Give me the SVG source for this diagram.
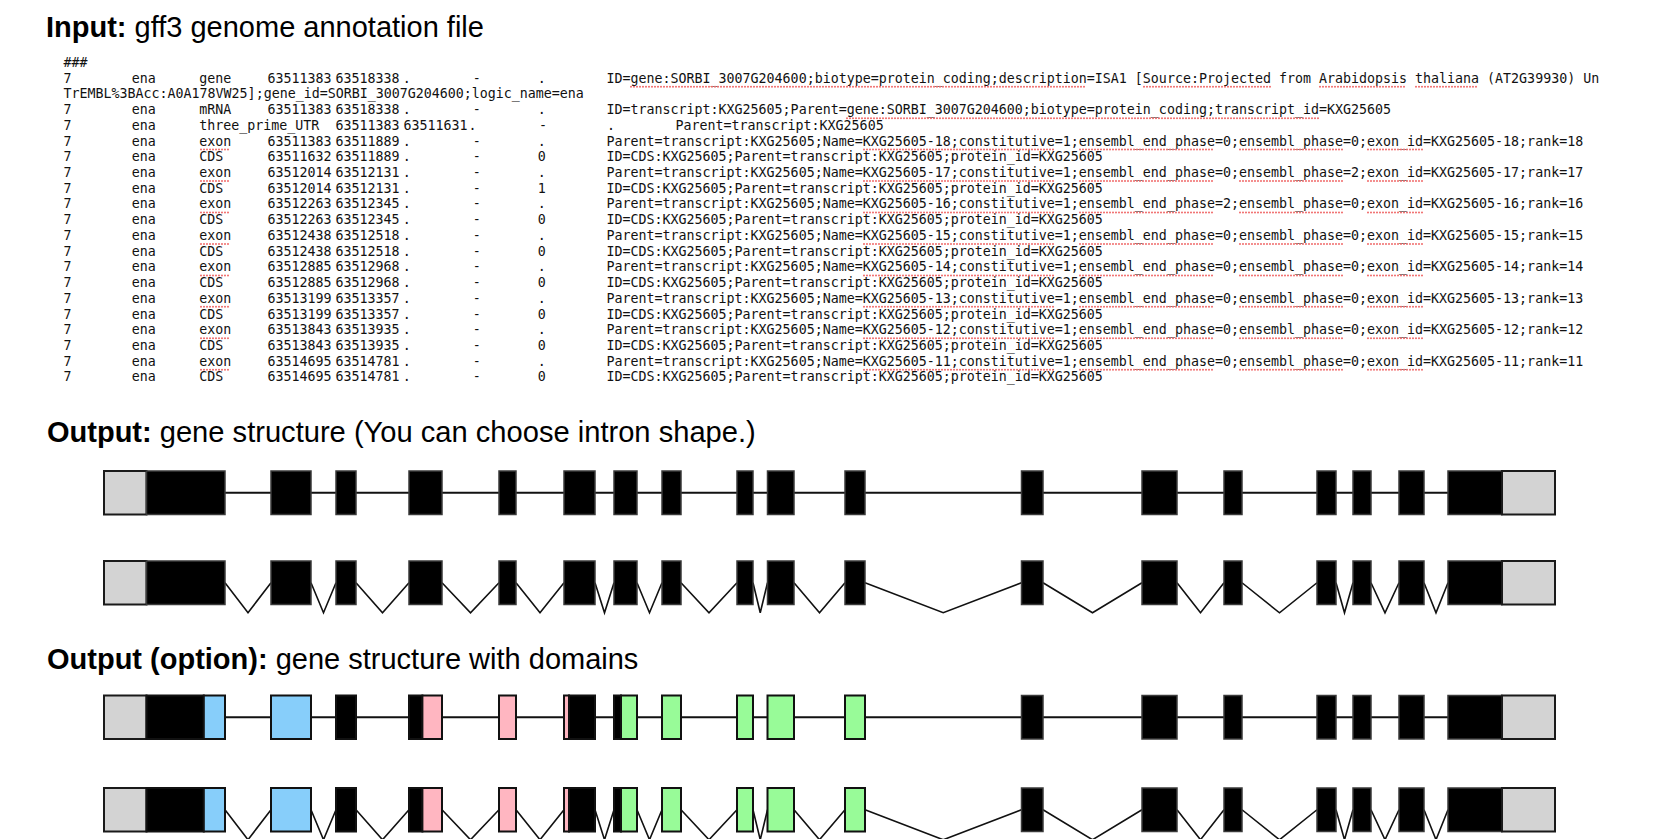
<svg xmlns="http://www.w3.org/2000/svg" width="1660" height="839" viewBox="0 0 1660 839">
<defs>
<style>
.t{font-family:"Liberation Sans",Arial,sans-serif;font-size:29px;fill:#000}
.b{font-weight:bold}
.m{font-family:"DejaVu Sans Mono","Liberation Mono",monospace;font-size:13.3px;fill:#111}
.sp{stroke:#f06a6a;stroke-width:2;stroke-dasharray:0 3;stroke-linecap:round;fill:none}
.cds{fill:#000;stroke:#3a3a3a;stroke-width:1.5}
.utr{fill:#d3d3d3;stroke:#1a1a1a;stroke-width:2}
.dk{fill:#000;stroke:#111;stroke-width:2}
.bl{fill:#87cefa;stroke:#111;stroke-width:2}
.pk{fill:#ffb6c1;stroke:#111;stroke-width:2}
.gr{fill:#98fb98;stroke:#111;stroke-width:2}
.ln{stroke:#111;stroke-width:2;fill:none}
.vn{stroke:#111;stroke-width:1.6;fill:none;stroke-linejoin:miter}
</style>
</defs>
<rect width="1660" height="839" fill="#fff"/>

<g id="titles">
<text class="t" x="46" y="37"><tspan class="b">Input:</tspan> gff3 genome annotation file</text>
<text class="t" x="47" y="442"><tspan class="b">Output:</tspan> <tspan textLength="596" lengthAdjust="spacingAndGlyphs">gene structure (You can choose intron shape.)</tspan></text>
<text class="t" x="47" y="669"><tspan class="b">Output (option):</tspan> gene structure with domains</text>
</g>

<g id="gff3-text">
<text class="m" x="63.5" y="67">###</text>
<text class="m" y="82.72"><tspan x="63.5">7</tspan><tspan x="131.8">ena</tspan><tspan x="199.3">gene</tspan><tspan x="267.5">63511383</tspan><tspan x="335.5">63518338</tspan><tspan x="402.7">.</tspan><tspan x="472.7">-</tspan><tspan x="537.7">.</tspan><tspan x="606.5">ID=gene:SORBI_3007G204600;biotype=protein_coding;description=ISA1 [Source:Projected from Arabidopsis thaliana (AT2G39930) Un</tspan></text>
<text class="m" x="63.5" y="98.44">TrEMBL%3BAcc:A0A178VW25];gene_id=SORBI_3007G204600;logic_name=ena</text>
<text class="m" y="114.16"><tspan x="63.5">7</tspan><tspan x="131.8">ena</tspan><tspan x="199.3">mRNA</tspan><tspan x="267.5">63511383</tspan><tspan x="335.5">63518338</tspan><tspan x="402.7">.</tspan><tspan x="472.7">-</tspan><tspan x="537.7">.</tspan><tspan x="606.5">ID=transcript:KXG25605;Parent=gene:SORBI_3007G204600;biotype=protein_coding;transcript_id=KXG25605</tspan></text>
<text class="m" y="129.88"><tspan x="63.5">7</tspan><tspan x="131.8">ena</tspan><tspan x="199.3">three_prime_UTR</tspan><tspan x="335.5">63511383</tspan><tspan x="403.5">63511631</tspan><tspan x="468.5">.</tspan><tspan x="539">-</tspan><tspan x="607">.</tspan><tspan x="675.5">Parent=transcript:KXG25605</tspan></text>
<text class="m" y="145.6"><tspan x="63.5">7</tspan><tspan x="131.8">ena</tspan><tspan x="199.3">exon</tspan><tspan x="267.5">63511383</tspan><tspan x="335.5">63511889</tspan><tspan x="402.7">.</tspan><tspan x="472.7">-</tspan><tspan x="537.7">.</tspan><tspan x="606.5">Parent=transcript:KXG25605;Name=KXG25605-18;constitutive=1;ensembl_end_phase=0;ensembl_phase=0;exon_id=KXG25605-18;rank=18</tspan></text>
<text class="m" y="161.32"><tspan x="63.5">7</tspan><tspan x="131.8">ena</tspan><tspan x="199.3">CDS</tspan><tspan x="267.5">63511632</tspan><tspan x="335.5">63511889</tspan><tspan x="402.7">.</tspan><tspan x="472.7">-</tspan><tspan x="537.7">0</tspan><tspan x="606.5">ID=CDS:KXG25605;Parent=transcript:KXG25605;protein_id=KXG25605</tspan></text>
<text class="m" y="177.04"><tspan x="63.5">7</tspan><tspan x="131.8">ena</tspan><tspan x="199.3">exon</tspan><tspan x="267.5">63512014</tspan><tspan x="335.5">63512131</tspan><tspan x="402.7">.</tspan><tspan x="472.7">-</tspan><tspan x="537.7">.</tspan><tspan x="606.5">Parent=transcript:KXG25605;Name=KXG25605-17;constitutive=1;ensembl_end_phase=0;ensembl_phase=2;exon_id=KXG25605-17;rank=17</tspan></text>
<text class="m" y="192.76"><tspan x="63.5">7</tspan><tspan x="131.8">ena</tspan><tspan x="199.3">CDS</tspan><tspan x="267.5">63512014</tspan><tspan x="335.5">63512131</tspan><tspan x="402.7">.</tspan><tspan x="472.7">-</tspan><tspan x="537.7">1</tspan><tspan x="606.5">ID=CDS:KXG25605;Parent=transcript:KXG25605;protein_id=KXG25605</tspan></text>
<text class="m" y="208.48"><tspan x="63.5">7</tspan><tspan x="131.8">ena</tspan><tspan x="199.3">exon</tspan><tspan x="267.5">63512263</tspan><tspan x="335.5">63512345</tspan><tspan x="402.7">.</tspan><tspan x="472.7">-</tspan><tspan x="537.7">.</tspan><tspan x="606.5">Parent=transcript:KXG25605;Name=KXG25605-16;constitutive=1;ensembl_end_phase=2;ensembl_phase=0;exon_id=KXG25605-16;rank=16</tspan></text>
<text class="m" y="224.2"><tspan x="63.5">7</tspan><tspan x="131.8">ena</tspan><tspan x="199.3">CDS</tspan><tspan x="267.5">63512263</tspan><tspan x="335.5">63512345</tspan><tspan x="402.7">.</tspan><tspan x="472.7">-</tspan><tspan x="537.7">0</tspan><tspan x="606.5">ID=CDS:KXG25605;Parent=transcript:KXG25605;protein_id=KXG25605</tspan></text>
<text class="m" y="239.92"><tspan x="63.5">7</tspan><tspan x="131.8">ena</tspan><tspan x="199.3">exon</tspan><tspan x="267.5">63512438</tspan><tspan x="335.5">63512518</tspan><tspan x="402.7">.</tspan><tspan x="472.7">-</tspan><tspan x="537.7">.</tspan><tspan x="606.5">Parent=transcript:KXG25605;Name=KXG25605-15;constitutive=1;ensembl_end_phase=0;ensembl_phase=0;exon_id=KXG25605-15;rank=15</tspan></text>
<text class="m" y="255.64"><tspan x="63.5">7</tspan><tspan x="131.8">ena</tspan><tspan x="199.3">CDS</tspan><tspan x="267.5">63512438</tspan><tspan x="335.5">63512518</tspan><tspan x="402.7">.</tspan><tspan x="472.7">-</tspan><tspan x="537.7">0</tspan><tspan x="606.5">ID=CDS:KXG25605;Parent=transcript:KXG25605;protein_id=KXG25605</tspan></text>
<text class="m" y="271.36"><tspan x="63.5">7</tspan><tspan x="131.8">ena</tspan><tspan x="199.3">exon</tspan><tspan x="267.5">63512885</tspan><tspan x="335.5">63512968</tspan><tspan x="402.7">.</tspan><tspan x="472.7">-</tspan><tspan x="537.7">.</tspan><tspan x="606.5">Parent=transcript:KXG25605;Name=KXG25605-14;constitutive=1;ensembl_end_phase=0;ensembl_phase=0;exon_id=KXG25605-14;rank=14</tspan></text>
<text class="m" y="287.08"><tspan x="63.5">7</tspan><tspan x="131.8">ena</tspan><tspan x="199.3">CDS</tspan><tspan x="267.5">63512885</tspan><tspan x="335.5">63512968</tspan><tspan x="402.7">.</tspan><tspan x="472.7">-</tspan><tspan x="537.7">0</tspan><tspan x="606.5">ID=CDS:KXG25605;Parent=transcript:KXG25605;protein_id=KXG25605</tspan></text>
<text class="m" y="302.8"><tspan x="63.5">7</tspan><tspan x="131.8">ena</tspan><tspan x="199.3">exon</tspan><tspan x="267.5">63513199</tspan><tspan x="335.5">63513357</tspan><tspan x="402.7">.</tspan><tspan x="472.7">-</tspan><tspan x="537.7">.</tspan><tspan x="606.5">Parent=transcript:KXG25605;Name=KXG25605-13;constitutive=1;ensembl_end_phase=0;ensembl_phase=0;exon_id=KXG25605-13;rank=13</tspan></text>
<text class="m" y="318.52"><tspan x="63.5">7</tspan><tspan x="131.8">ena</tspan><tspan x="199.3">CDS</tspan><tspan x="267.5">63513199</tspan><tspan x="335.5">63513357</tspan><tspan x="402.7">.</tspan><tspan x="472.7">-</tspan><tspan x="537.7">0</tspan><tspan x="606.5">ID=CDS:KXG25605;Parent=transcript:KXG25605;protein_id=KXG25605</tspan></text>
<text class="m" y="334.24"><tspan x="63.5">7</tspan><tspan x="131.8">ena</tspan><tspan x="199.3">exon</tspan><tspan x="267.5">63513843</tspan><tspan x="335.5">63513935</tspan><tspan x="402.7">.</tspan><tspan x="472.7">-</tspan><tspan x="537.7">.</tspan><tspan x="606.5">Parent=transcript:KXG25605;Name=KXG25605-12;constitutive=1;ensembl_end_phase=0;ensembl_phase=0;exon_id=KXG25605-12;rank=12</tspan></text>
<text class="m" y="349.96"><tspan x="63.5">7</tspan><tspan x="131.8">ena</tspan><tspan x="199.3">CDS</tspan><tspan x="267.5">63513843</tspan><tspan x="335.5">63513935</tspan><tspan x="402.7">.</tspan><tspan x="472.7">-</tspan><tspan x="537.7">0</tspan><tspan x="606.5">ID=CDS:KXG25605;Parent=transcript:KXG25605;protein_id=KXG25605</tspan></text>
<text class="m" y="365.68"><tspan x="63.5">7</tspan><tspan x="131.8">ena</tspan><tspan x="199.3">exon</tspan><tspan x="267.5">63514695</tspan><tspan x="335.5">63514781</tspan><tspan x="402.7">.</tspan><tspan x="472.7">-</tspan><tspan x="537.7">.</tspan><tspan x="606.5">Parent=transcript:KXG25605;Name=KXG25605-11;constitutive=1;ensembl_end_phase=0;ensembl_phase=0;exon_id=KXG25605-11;rank=11</tspan></text>
<text class="m" y="381.4"><tspan x="63.5">7</tspan><tspan x="131.8">ena</tspan><tspan x="199.3">CDS</tspan><tspan x="267.5">63514695</tspan><tspan x="335.5">63514781</tspan><tspan x="402.7">.</tspan><tspan x="472.7">-</tspan><tspan x="537.7">0</tspan><tspan x="606.5">ID=CDS:KXG25605;Parent=transcript:KXG25605;protein_id=KXG25605</tspan></text>
</g>

<g id="spellcheck-marks">
<path class="sp" d="M631 86.7H1087M1144 86.7H1271M1320 86.7H1407M1416 86.7H1479M847 118.2H1319"/>
<path class="sp" d="M201 149.6H231M864 149.6H1055M1080 149.6H1215M1240 149.6H1343M1368 149.6H1423"/>
<path class="sp" d="M201 181H231M864 181H1055M1080 181H1215M1240 181H1343M1368 181H1423"/>
<path class="sp" d="M201 212.5H231M864 212.5H1055M1080 212.5H1215M1240 212.5H1343M1368 212.5H1423"/>
<path class="sp" d="M201 243.9H231M864 243.9H1055M1080 243.9H1215M1240 243.9H1343M1368 243.9H1423"/>
<path class="sp" d="M201 275.4H231M864 275.4H1055M1080 275.4H1215M1240 275.4H1343M1368 275.4H1423"/>
<path class="sp" d="M201 306.8H231M864 306.8H1055M1080 306.8H1215M1240 306.8H1343M1368 306.8H1423"/>
<path class="sp" d="M201 338.2H231M864 338.2H1055M1080 338.2H1215M1240 338.2H1343M1368 338.2H1423"/>
<path class="sp" d="M201 369.7H231M864 369.7H1055M1080 369.7H1215M1240 369.7H1343M1368 369.7H1423"/>
</g>

<g id="connectors">
<line id="row1-introns" class="ln" x1="225" y1="492.75" x2="1448" y2="492.75"/>
<g id="row2-introns" class="vn">
<polyline points="225,582.75 248,612.75 271,582.75"/>
<polyline points="311,582.75 323.5,612.75 336,582.75"/>
<polyline points="356,582.75 382.5,612.75 409,582.75"/>
<polyline points="442,582.75 470.5,612.75 499,582.75"/>
<polyline points="516,582.75 540,612.75 564,582.75"/>
<polyline points="595,582.75 604.5,612.75 614,582.75"/>
<polyline points="637,582.75 649.5,612.75 662,582.75"/>
<polyline points="681,582.75 709,612.75 737,582.75"/>
<polyline points="753,582.75 760.25,612.75 767.5,582.75"/>
<polyline points="794,582.75 819.5,612.75 845,582.75"/>
<polyline points="865,582.75 943.25,612.75 1021.5,582.75"/>
<polyline points="1043,582.75 1092.5,612.75 1142,582.75"/>
<polyline points="1177,582.75 1200.5,612.75 1224,582.75"/>
<polyline points="1242,582.75 1279.5,612.75 1317,582.75"/>
<polyline points="1336,582.75 1344.5,612.75 1353,582.75"/>
<polyline points="1371,582.75 1385,612.75 1399,582.75"/>
<polyline points="1424,582.75 1436,612.75 1448,582.75"/>
</g>
<line id="row3-introns" class="ln" x1="225" y1="717.25" x2="1448" y2="717.25"/>
<g id="row4-introns" class="vn">
<polyline points="225,809.75 248,839.75 271,809.75"/>
<polyline points="311,809.75 323.5,839.75 336,809.75"/>
<polyline points="356,809.75 382.5,839.75 409,809.75"/>
<polyline points="442,809.75 470.5,839.75 499,809.75"/>
<polyline points="516,809.75 540,839.75 564,809.75"/>
<polyline points="595,809.75 604.5,839.75 614,809.75"/>
<polyline points="637,809.75 649.5,839.75 662,809.75"/>
<polyline points="681,809.75 709,839.75 737,809.75"/>
<polyline points="753,809.75 760.25,839.75 767.5,809.75"/>
<polyline points="794,809.75 819.5,839.75 845,809.75"/>
<polyline points="865,809.75 943.25,839.75 1021.5,809.75"/>
<polyline points="1043,809.75 1092.5,839.75 1142,809.75"/>
<polyline points="1177,809.75 1200.5,839.75 1224,809.75"/>
<polyline points="1242,809.75 1279.5,839.75 1317,809.75"/>
<polyline points="1336,809.75 1344.5,839.75 1353,809.75"/>
<polyline points="1371,809.75 1385,839.75 1399,809.75"/>
<polyline points="1424,809.75 1436,839.75 1448,809.75"/>
</g>
</g>

<g id="row1">
<g id="r1-utr3"><rect class="utr" x="104" y="471" width="42.5" height="43.5"/></g>
<g id="r1-e1"><rect class="cds" x="146.5" y="471" width="78.5" height="43.5"/></g>
<g id="r1-e2"><rect class="cds" x="271" y="471" width="40" height="43.5"/></g>
<g id="r1-e3"><rect class="cds" x="336" y="471" width="20" height="43.5"/></g>
<g id="r1-e4"><rect class="cds" x="409" y="471" width="33" height="43.5"/></g>
<g id="r1-e5"><rect class="cds" x="499" y="471" width="17" height="43.5"/></g>
<g id="r1-e6"><rect class="cds" x="564" y="471" width="31" height="43.5"/></g>
<g id="r1-e7"><rect class="cds" x="614" y="471" width="23" height="43.5"/></g>
<g id="r1-e8"><rect class="cds" x="662" y="471" width="19" height="43.5"/></g>
<g id="r1-e9"><rect class="cds" x="737" y="471" width="16" height="43.5"/></g>
<g id="r1-e10"><rect class="cds" x="767.5" y="471" width="26.5" height="43.5"/></g>
<g id="r1-e11"><rect class="cds" x="845" y="471" width="20" height="43.5"/></g>
<g id="r1-e12"><rect class="cds" x="1021.5" y="471" width="21.5" height="43.5"/></g>
<g id="r1-e13"><rect class="cds" x="1142" y="471" width="35" height="43.5"/></g>
<g id="r1-e14"><rect class="cds" x="1224" y="471" width="18" height="43.5"/></g>
<g id="r1-e15"><rect class="cds" x="1317" y="471" width="19" height="43.5"/></g>
<g id="r1-e16"><rect class="cds" x="1353" y="471" width="18" height="43.5"/></g>
<g id="r1-e17"><rect class="cds" x="1399" y="471" width="25" height="43.5"/></g>
<g id="r1-e18"><rect class="cds" x="1448" y="471" width="54" height="43.5"/></g>
<g id="r1-utr5"><rect class="utr" x="1502" y="471" width="53" height="43.5"/></g>
</g>

<g id="row2">
<g id="r2-utr3"><rect class="utr" x="104" y="561" width="42.5" height="43.5"/></g>
<g id="r2-e1"><rect class="cds" x="146.5" y="561" width="78.5" height="43.5"/></g>
<g id="r2-e2"><rect class="cds" x="271" y="561" width="40" height="43.5"/></g>
<g id="r2-e3"><rect class="cds" x="336" y="561" width="20" height="43.5"/></g>
<g id="r2-e4"><rect class="cds" x="409" y="561" width="33" height="43.5"/></g>
<g id="r2-e5"><rect class="cds" x="499" y="561" width="17" height="43.5"/></g>
<g id="r2-e6"><rect class="cds" x="564" y="561" width="31" height="43.5"/></g>
<g id="r2-e7"><rect class="cds" x="614" y="561" width="23" height="43.5"/></g>
<g id="r2-e8"><rect class="cds" x="662" y="561" width="19" height="43.5"/></g>
<g id="r2-e9"><rect class="cds" x="737" y="561" width="16" height="43.5"/></g>
<g id="r2-e10"><rect class="cds" x="767.5" y="561" width="26.5" height="43.5"/></g>
<g id="r2-e11"><rect class="cds" x="845" y="561" width="20" height="43.5"/></g>
<g id="r2-e12"><rect class="cds" x="1021.5" y="561" width="21.5" height="43.5"/></g>
<g id="r2-e13"><rect class="cds" x="1142" y="561" width="35" height="43.5"/></g>
<g id="r2-e14"><rect class="cds" x="1224" y="561" width="18" height="43.5"/></g>
<g id="r2-e15"><rect class="cds" x="1317" y="561" width="19" height="43.5"/></g>
<g id="r2-e16"><rect class="cds" x="1353" y="561" width="18" height="43.5"/></g>
<g id="r2-e17"><rect class="cds" x="1399" y="561" width="25" height="43.5"/></g>
<g id="r2-e18"><rect class="cds" x="1448" y="561" width="54" height="43.5"/></g>
<g id="r2-utr5"><rect class="utr" x="1502" y="561" width="53" height="43.5"/></g>
</g>

<g id="row3">
<g id="r3-utr3"><rect class="utr" x="104" y="695.5" width="42.5" height="43.5"/></g>
<g id="r3-e1"><rect class="dk" x="146.5" y="695.5" width="57.3" height="43.5"/><rect class="bl" x="203.8" y="695.5" width="21.2" height="43.5"/></g>
<g id="r3-e2"><rect class="bl" x="271" y="695.5" width="40" height="43.5"/></g>
<g id="r3-e3"><rect class="dk" x="336" y="695.5" width="20" height="43.5"/></g>
<g id="r3-e4"><rect class="dk" x="409" y="695.5" width="13.4" height="43.5"/><rect class="pk" x="422.4" y="695.5" width="19.6" height="43.5"/></g>
<g id="r3-e5"><rect class="pk" x="499" y="695.5" width="17" height="43.5"/></g>
<g id="r3-e6"><rect class="pk" x="564" y="695.5" width="5" height="43.5"/><rect class="dk" x="569" y="695.5" width="26" height="43.5"/></g>
<g id="r3-e7"><rect class="dk" x="614" y="695.5" width="7" height="43.5"/><rect class="gr" x="621" y="695.5" width="16" height="43.5"/></g>
<g id="r3-e8"><rect class="gr" x="662" y="695.5" width="19" height="43.5"/></g>
<g id="r3-e9"><rect class="gr" x="737" y="695.5" width="16" height="43.5"/></g>
<g id="r3-e10"><rect class="gr" x="767.5" y="695.5" width="26.5" height="43.5"/></g>
<g id="r3-e11"><rect class="gr" x="845" y="695.5" width="20" height="43.5"/></g>
<g id="r3-e12"><rect class="cds" x="1021.5" y="695.5" width="21.5" height="43.5"/></g>
<g id="r3-e13"><rect class="cds" x="1142" y="695.5" width="35" height="43.5"/></g>
<g id="r3-e14"><rect class="cds" x="1224" y="695.5" width="18" height="43.5"/></g>
<g id="r3-e15"><rect class="cds" x="1317" y="695.5" width="19" height="43.5"/></g>
<g id="r3-e16"><rect class="cds" x="1353" y="695.5" width="18" height="43.5"/></g>
<g id="r3-e17"><rect class="cds" x="1399" y="695.5" width="25" height="43.5"/></g>
<g id="r3-e18"><rect class="cds" x="1448" y="695.5" width="54" height="43.5"/></g>
<g id="r3-utr5"><rect class="utr" x="1502" y="695.5" width="53" height="43.5"/></g>
</g>

<g id="row4">
<g id="r4-utr3"><rect class="utr" x="104" y="788" width="42.5" height="43.5"/></g>
<g id="r4-e1"><rect class="dk" x="146.5" y="788" width="57.3" height="43.5"/><rect class="bl" x="203.8" y="788" width="21.2" height="43.5"/></g>
<g id="r4-e2"><rect class="bl" x="271" y="788" width="40" height="43.5"/></g>
<g id="r4-e3"><rect class="dk" x="336" y="788" width="20" height="43.5"/></g>
<g id="r4-e4"><rect class="dk" x="409" y="788" width="13.4" height="43.5"/><rect class="pk" x="422.4" y="788" width="19.6" height="43.5"/></g>
<g id="r4-e5"><rect class="pk" x="499" y="788" width="17" height="43.5"/></g>
<g id="r4-e6"><rect class="pk" x="564" y="788" width="5" height="43.5"/><rect class="dk" x="569" y="788" width="26" height="43.5"/></g>
<g id="r4-e7"><rect class="dk" x="614" y="788" width="7" height="43.5"/><rect class="gr" x="621" y="788" width="16" height="43.5"/></g>
<g id="r4-e8"><rect class="gr" x="662" y="788" width="19" height="43.5"/></g>
<g id="r4-e9"><rect class="gr" x="737" y="788" width="16" height="43.5"/></g>
<g id="r4-e10"><rect class="gr" x="767.5" y="788" width="26.5" height="43.5"/></g>
<g id="r4-e11"><rect class="gr" x="845" y="788" width="20" height="43.5"/></g>
<g id="r4-e12"><rect class="cds" x="1021.5" y="788" width="21.5" height="43.5"/></g>
<g id="r4-e13"><rect class="cds" x="1142" y="788" width="35" height="43.5"/></g>
<g id="r4-e14"><rect class="cds" x="1224" y="788" width="18" height="43.5"/></g>
<g id="r4-e15"><rect class="cds" x="1317" y="788" width="19" height="43.5"/></g>
<g id="r4-e16"><rect class="cds" x="1353" y="788" width="18" height="43.5"/></g>
<g id="r4-e17"><rect class="cds" x="1399" y="788" width="25" height="43.5"/></g>
<g id="r4-e18"><rect class="cds" x="1448" y="788" width="54" height="43.5"/></g>
<g id="r4-utr5"><rect class="utr" x="1502" y="788" width="53" height="43.5"/></g>
</g>
</svg>
